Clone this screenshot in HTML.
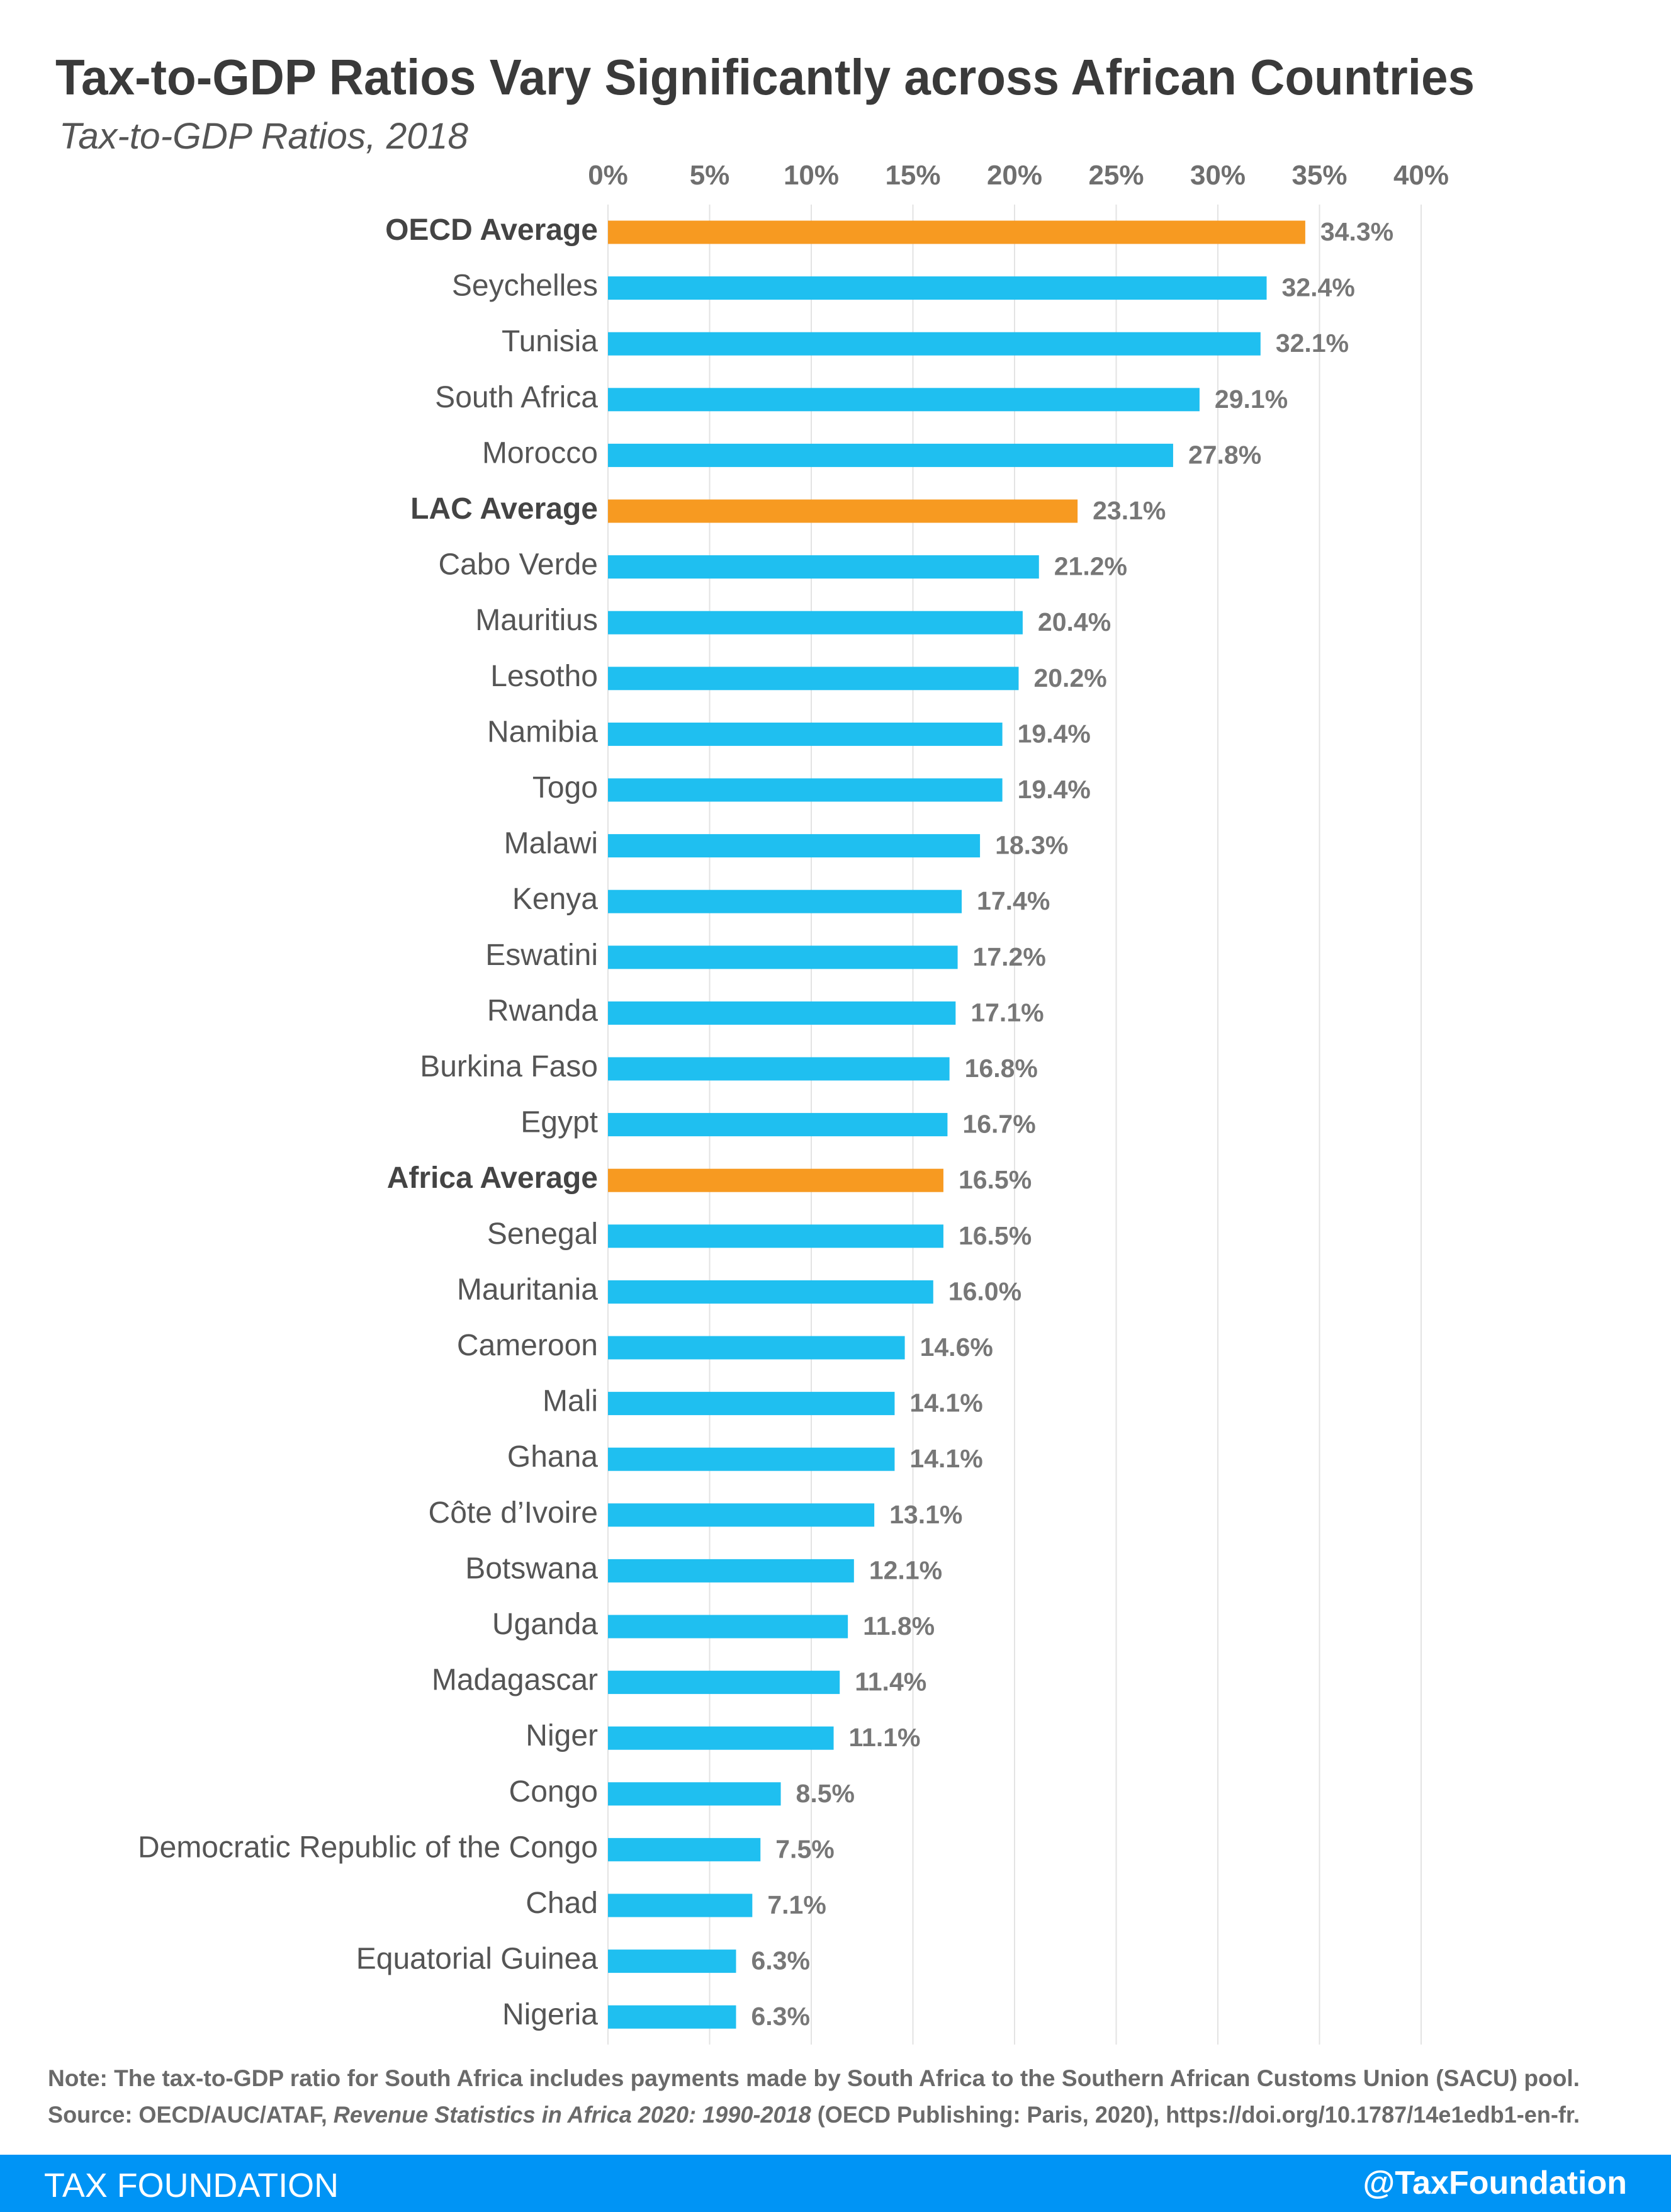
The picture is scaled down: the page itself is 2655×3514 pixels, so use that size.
<!DOCTYPE html>
<html><head><meta charset="utf-8"><style>
html,body{margin:0;padding:0;background:#fff;}
svg{display:block;font-family:"Liberation Sans",sans-serif;}
</style></head><body>
<svg id="chart" width="2655" height="3514" viewBox="0 0 2655 3514">
<text x="88" y="150" font-size="80" font-weight="bold" fill="#3a3a3a" textLength="2255" lengthAdjust="spacingAndGlyphs">Tax-to-GDP Ratios Vary Significantly across African Countries</text>
<text x="94" y="236" font-size="58" font-style="italic" fill="#555" textLength="650" lengthAdjust="spacingAndGlyphs">Tax-to-GDP Ratios, 2018</text>
<g id="grid"></g>
<g id="bars"></g>
<text x="76" y="3314" font-size="37" font-weight="bold" fill="#6a6a6a" textLength="2434" lengthAdjust="spacingAndGlyphs">Note: The tax-to-GDP ratio for South Africa includes payments made by South Africa to the Southern African Customs Union (SACU) pool.</text>
<text x="76" y="3372" font-size="37" font-weight="bold" fill="#6a6a6a" textLength="2434" lengthAdjust="spacingAndGlyphs">Source: OECD/AUC/ATAF, <tspan font-style="italic">Revenue Statistics in Africa 2020: 1990-2018</tspan> (OECD Publishing: Paris, 2020), https://doi.org/10.1787/14e1edb1-en-fr.</text>
<rect x="0" y="3423" width="2655" height="91" fill="#0094f5"/>
<text x="70" y="3490" font-size="54" fill="#fff" textLength="468" lengthAdjust="spacingAndGlyphs">TAX FOUNDATION</text>
<text x="2585" y="3485" font-size="52" font-weight="bold" fill="#fff" text-anchor="end">@TaxFoundation</text>
</svg>
<script>
const categories=["OECD Average","Seychelles","Tunisia","South Africa","Morocco","LAC Average","Cabo Verde","Mauritius","Lesotho","Namibia","Togo","Malawi","Kenya","Eswatini","Rwanda","Burkina Faso","Egypt","Africa Average","Senegal","Mauritania","Cameroon","Mali","Ghana","Côte d’Ivoire","Botswana","Uganda","Madagascar","Niger","Congo","Democratic Republic of the Congo","Chad","Equatorial Guinea","Nigeria"];
const values=[34.3,32.4,32.1,29.1,27.8,23.1,21.2,20.4,20.2,19.4,19.4,18.3,17.4,17.2,17.1,16.8,16.7,16.5,16.5,16.0,14.6,14.1,14.1,13.1,12.1,11.8,11.4,11.1,8.5,7.5,7.1,6.3,6.3];
const averages=["OECD Average","LAC Average","Africa Average"];
const ticks=[0,5,10,15,20,25,30,35,40];
const NS="http://www.w3.org/2000/svg";
const x0=966,pxPer=32.3,yTop=369,step=88.6,barH=37;
const xs=v=>x0+v*pxPer;
const ys=i=>yTop+i*step;
const grid=document.getElementById('grid'),bars=document.getElementById('bars');
function mk(tag,attrs,parent){const e=document.createElementNS(NS,tag);for(const k in attrs)e.setAttribute(k,attrs[k]);parent.appendChild(e);return e;}
ticks.forEach(t=>{
  const l=mk('line',{x1:xs(t),x2:xs(t),y1:325,y2:3248,stroke:'#e3e3e3','stroke-width':2},grid);
  
  
  const tx=mk('text',{x:xs(t),y:293,'font-size':44,'font-weight':'bold',fill:'#6f6f6f','text-anchor':'middle'},grid);
  tx.textContent=t+'%';
  
  
});
categories.forEach((c,i)=>{
  const avg=averages.includes(c);
  const cy=ys(i);
  const r=mk('rect',{x:x0,y:cy-barH/2,width:values[i]*pxPer,height:barH,fill:avg?'#f79a21':'#1fbff0'},bars);
  
  
  const lb=mk('text',{x:950,y:cy+12,'font-size':48,'font-weight':avg?'bold':'normal',fill:avg?'#444':'#555','text-anchor':'end'},bars);
  lb.textContent=c;
  
  
  const vl=mk('text',{x:xs(values[i])+24,y:cy+13,'font-size':41,'font-weight':'bold',fill:'#777'},bars);
  vl.textContent=values[i].toFixed(1)+'%';
  
  
});
</script>
</body></html>
